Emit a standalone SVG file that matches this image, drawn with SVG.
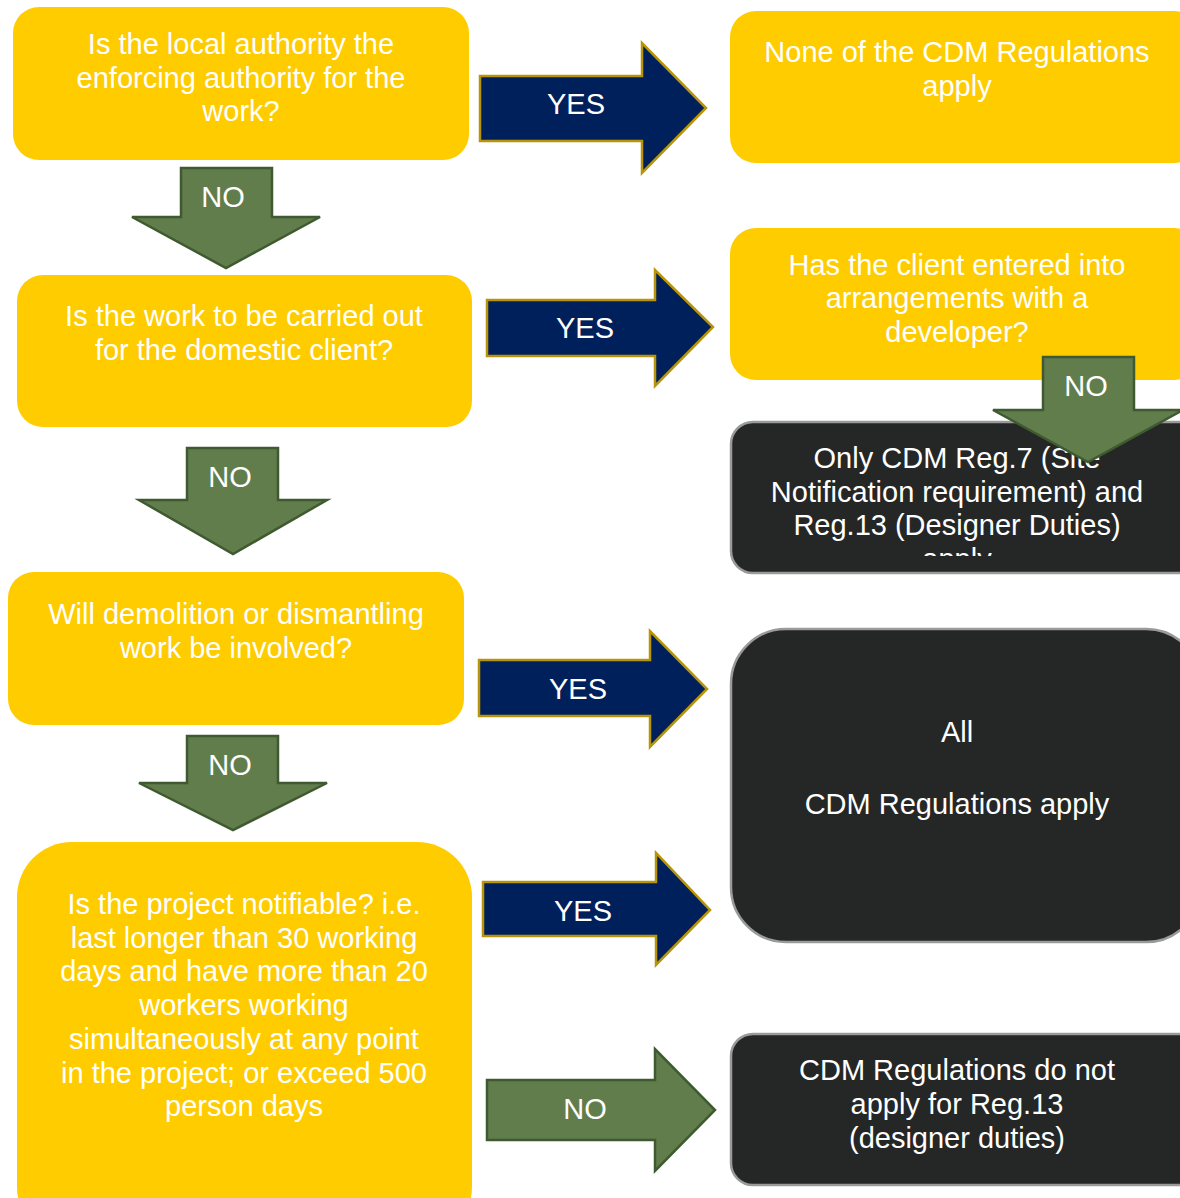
<svg xmlns="http://www.w3.org/2000/svg" width="1180" height="1198" viewBox="0 0 1180 1198">
<defs>
<style>
.yb{fill:#FFCC00;}
.db{fill:#252726;stroke:#9A9A9A;stroke-width:2.5;}
.t{font-family:"Liberation Sans",Arial,sans-serif;font-size:29px;fill:#FFFFFF;text-anchor:middle;}
.ya{fill:#00205B;stroke:#B8940A;stroke-width:2.5;stroke-linejoin:miter;}
.na{fill:#617D4C;stroke:#3F5A30;stroke-width:2.5;stroke-linejoin:miter;}
</style>
<clipPath id="clipReg7"><rect x="731" y="422" width="449" height="134"/></clipPath>
</defs>
<rect width="1180" height="1198" fill="#FFFFFF"/>

<g id="q1">
<rect class="yb" x="13" y="7" width="456" height="153" rx="26"/>
<text class="t"><tspan x="241" y="54">Is the local authority the</tspan><tspan x="241" y="88">enforcing authority for the</tspan><tspan x="241" y="121">work?</tspan></text>
</g>
<g id="r1">
<rect class="yb" x="730" y="11" width="470" height="152" rx="26"/>
<text class="t"><tspan x="957" y="62">None of the CDM Regulations</tspan><tspan x="957" y="96">apply</tspan></text>
</g>
<g id="q2">
<rect class="yb" x="17" y="275" width="455" height="152" rx="26"/>
<text class="t"><tspan x="244" y="326">Is the work to be carried out</tspan><tspan x="244" y="360">for the domestic client?</tspan></text>
</g>
<g id="q2b">
<rect class="yb" x="730" y="228" width="470" height="152" rx="26"/>
<text class="t"><tspan x="957" y="275">Has the client entered into</tspan><tspan x="957" y="308">arrangements with a</tspan><tspan x="957" y="342">developer?</tspan></text>
</g>
<g id="r2">
<rect class="db" x="731" y="422" width="470" height="151" rx="22"/>
<text class="t" clip-path="url(#clipReg7)"><tspan x="957" y="468">Only CDM Reg.7 (Site</tspan><tspan x="957" y="502">Notification requirement) and</tspan><tspan x="957" y="535">Reg.13 (Designer Duties)</tspan><tspan x="957" y="569">apply</tspan></text>
</g>
<g id="q3">
<rect class="yb" x="8" y="572" width="456" height="153" rx="26"/>
<text class="t"><tspan x="236" y="624">Will demolition or dismantling</tspan><tspan x="236" y="658">work be involved?</tspan></text>
</g>
<g id="r3">
<rect class="db" x="731" y="629" width="470" height="313" rx="55"/>
<text class="t"><tspan x="957" y="742">All</tspan><tspan x="957" y="814">CDM Regulations apply</tspan></text>
</g>
<g id="q4">
<rect class="yb" x="17" y="842" width="455" height="400" rx="55"/>
<text class="t"><tspan x="244" y="914">Is the project notifiable? i.e.</tspan><tspan x="244" y="948">last longer than 30 working</tspan><tspan x="244" y="981">days and have more than 20</tspan><tspan x="244" y="1015">workers working</tspan><tspan x="244" y="1049">simultaneously at any point</tspan><tspan x="244" y="1083">in the project; or exceed 500</tspan><tspan x="244" y="1116">person days</tspan></text>
</g>
<g id="r4">
<rect class="db" x="731" y="1034" width="470" height="151" rx="22"/>
<text class="t"><tspan x="957" y="1080">CDM Regulations do not</tspan><tspan x="957" y="1114">apply for Reg.13</tspan><tspan x="957" y="1148">(designer duties)</tspan></text>
</g>

<g id="connectors">
<g id="c1"><path class="ya" d="M480,76 H642 V43 L706,108 L642,173 V141 H480 Z"/><text class="t" x="576" y="114">YES</text></g>
<g id="c2"><path class="na" d="M181,168 H272 V217 H320 L226,268 L132,217 H181 Z"/><text class="t" x="223" y="207">NO</text></g>
<g id="c3"><path class="ya" d="M487,300 H655 V270 L713,327 L655,386 V356 H487 Z"/><text class="t" x="585" y="338">YES</text></g>
<g id="c4"><path class="na" d="M1043,357 H1134 V410 H1183 L1088,462 L993,410 H1043 Z"/><text class="t" x="1086" y="396">NO</text></g>
<g id="c5"><path class="na" d="M187,448 H278 V500 H327 L233,554 L139,500 H187 Z"/><text class="t" x="230" y="487">NO</text></g>
<g id="c6"><path class="ya" d="M479,660 H650 V631 L707,689 L650,747 V716 H479 Z"/><text class="t" x="578" y="699">YES</text></g>
<g id="c7"><path class="na" d="M187,736 H278 V783 H327 L233,830 L139,783 H187 Z"/><text class="t" x="230" y="775">NO</text></g>
<g id="c8"><path class="ya" d="M483,882 H656 V853 L710,910 L656,965 V936 H483 Z"/><text class="t" x="583" y="921">YES</text></g>
<g id="c9"><path class="na" d="M487,1080 H655 V1049 L715,1110 L655,1171 V1140 H487 Z"/><text class="t" x="585" y="1119">NO</text></g>
</g>
</svg>
